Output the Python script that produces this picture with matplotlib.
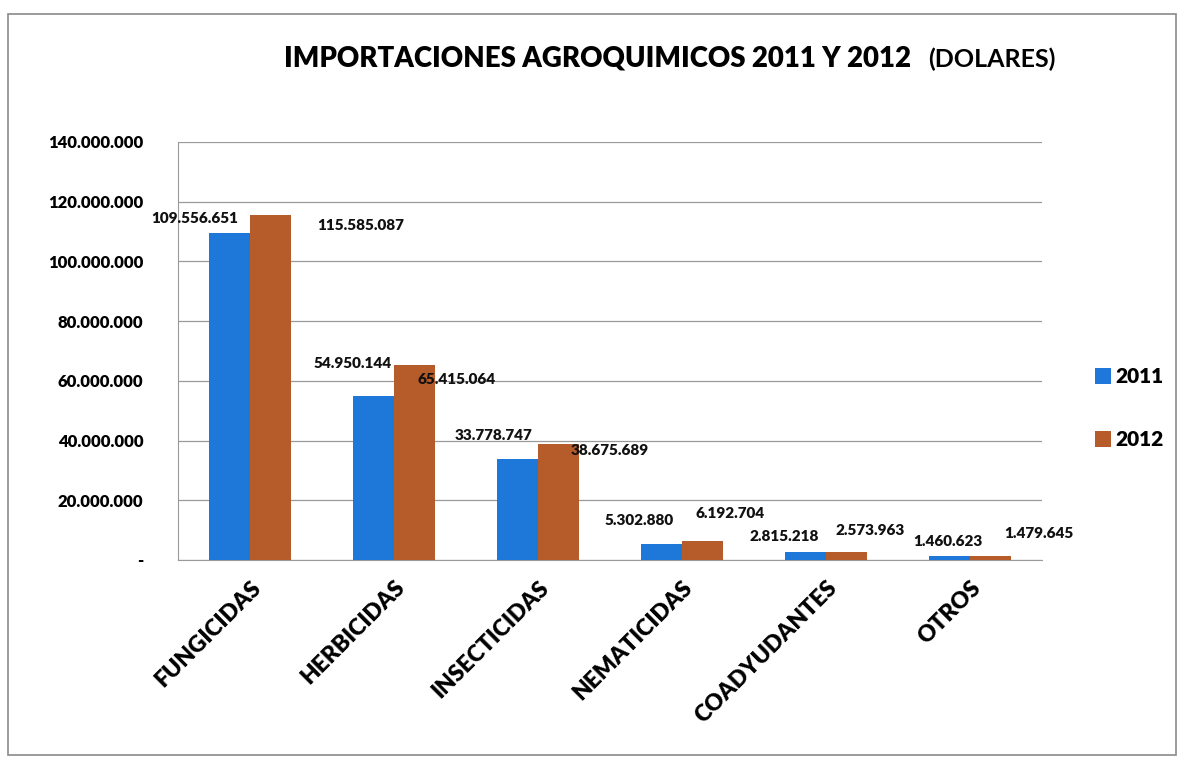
import matplotlib.pyplot as plt
from matplotlib.patches import Rectangle
import numpy as np

# data
categorias = ["FUNGICIDAS", "HERBICIDAS", "INSECTICIDAS", "NEMATICIDAS", "COADYUDANTES", "OTROS"]
valores_2011 = [109556651, 54950144, 33778747, 5302880, 2815218, 1460623]
valores_2012 = [115585087, 65415064, 38675689, 6192704, 2573963, 1479645]
yticks = [0, 20000000, 40000000, 60000000, 80000000, 100000000, 120000000, 140000000]

# label offsets in points (dx, dy) from the top centre of each bar
off_2011 = [(-25, 10), (-15, 23), (-17, 17), (-16, 17), (-15, 11), (-1, 10)]
off_2012 = [(65, -8), (30, -11), (37, -4), (20, 20), (17, 16), (35, 16)]

azul = "#1E78DA"
cafe = "#B65B2A"

plt.rcParams['font.family'] = ['Lato', 'DejaVu Sans']
peso = "heavy"

def fmt(v):
    if v == 0:
        return "-"
    return f"{v:,}".replace(",", ".")

fig = plt.figure(figsize=(11.81, 7.63), dpi=100)
ax = fig.add_axes([0.1507, 0.2661, 0.7316, 0.5478])

x = np.arange(len(categorias))
w = 0.285
b1 = ax.bar(x - w / 2, valores_2011, w, color=azul, label="2011", zorder=3)
b2 = ax.bar(x + w / 2, valores_2012, w, color=cafe, label="2012", zorder=3)

for rect, v, (dx, dy) in zip(b1, valores_2011, off_2011):
    ax.annotate(fmt(v), (rect.get_x() + rect.get_width() / 2, rect.get_height()),
                xytext=(dx, dy), textcoords="offset points", ha="center", va="center",
                fontsize=11, fontweight=peso, color="#111111")
for rect, v, (dx, dy) in zip(b2, valores_2012, off_2012):
    ax.annotate(fmt(v), (rect.get_x() + rect.get_width() / 2, rect.get_height()),
                xytext=(dx, dy), textcoords="offset points", ha="center", va="center",
                fontsize=11, fontweight=peso, color="#111111")

ax.set_xlim(-0.5, len(categorias) - 0.5)
ax.set_ylim(0, 140000000)
ax.set_yticks(yticks)
ax.set_yticklabels([fmt(t) for t in yticks], fontsize=12, fontweight=peso)
ax.set_xticks(x)
ax.set_xticklabels(categorias, rotation=45, ha="right", rotation_mode="anchor",
                   fontsize=16.5, fontweight=peso)
ax.tick_params(axis="y", length=0, pad=25)
ax.tick_params(axis="x", length=0, pad=12)
ax.grid(axis="y", color="#9a9a9a", linewidth=0.9, zorder=0)
for s in ["top", "right"]:
    ax.spines[s].set_visible(False)
ax.spines["left"].set_color("#9a9a9a")
ax.spines["bottom"].set_color("#9a9a9a")

fig.legend(handles=[b1, b2], labels=["2011", "2012"], loc="center left",
           bbox_to_anchor=(0.911, 0.465), frameon=False, prop={"size": 15, "weight": peso},
           handlelength=0.8, handleheight=0.8, handletextpad=0.2, labelspacing=2.1)

fig.text(284 / 1181, 1 - 58 / 763, "IMPORTACIONES AGROQUIMICOS 2011 Y 2012",
         ha="left", va="center", fontsize=19.9, fontweight=peso)
fig.text(928 / 1181, 1 - 59 / 763, "(DOLARES)",
         ha="left", va="center", fontsize=18, fontweight="bold")

fig.add_artist(Rectangle((8 / 1181, 1 - 755 / 763), 1168 / 1181, 741 / 763,
                         transform=fig.transFigure, fill=False, edgecolor="#8a8a8a", linewidth=1.2))

fig.savefig("out.png", dpi=100)
